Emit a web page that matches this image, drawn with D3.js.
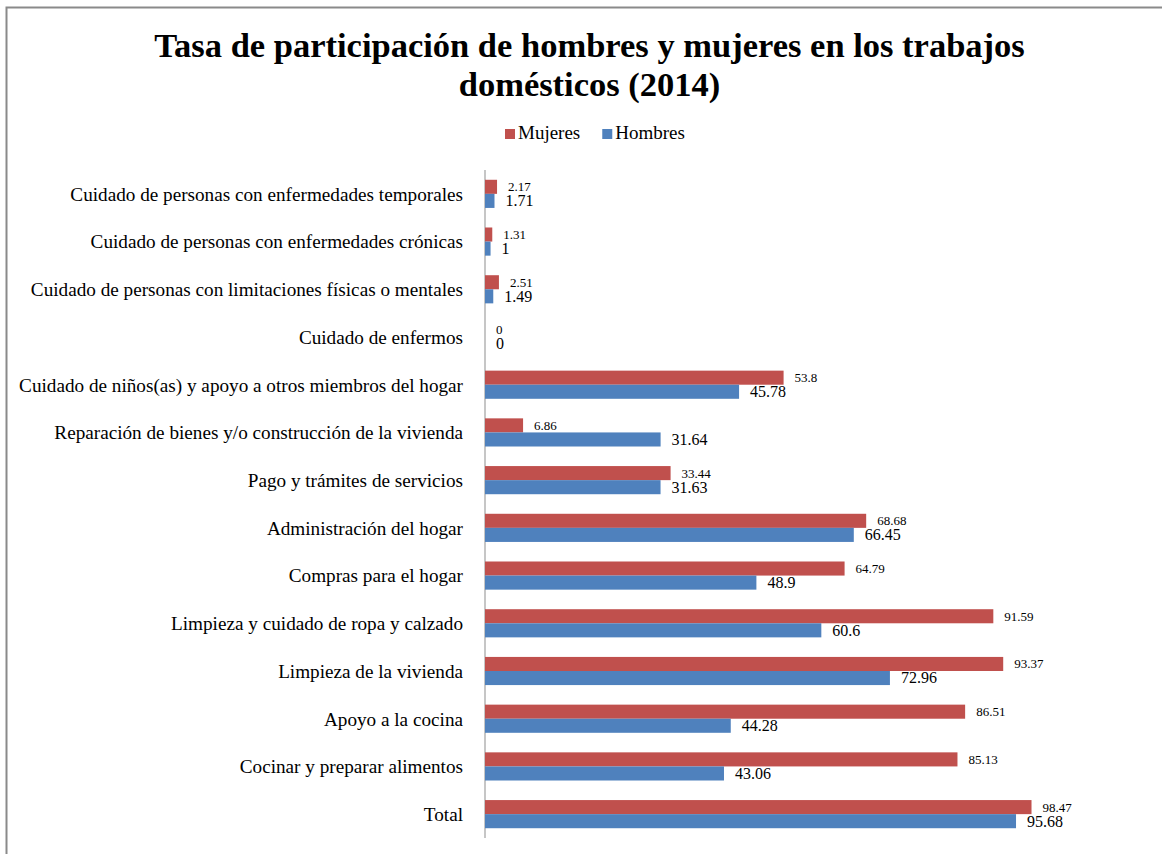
<!DOCTYPE html>
<html>
<head>
<meta charset="utf-8">
<script src="https://cdn.jsdelivr.net/npm/d3@7"></script>
<style>
  html, body { margin: 0; padding: 0; background: #fff; }
  svg { display: block; }
</style>
</head>
<body>
<svg id="chart" width="1162" height="854"></svg>
<script>
const titleLines = ["Tasa de participación de hombres y mujeres en los trabajos", "domésticos (2014)"];
const categories = [
  "Cuidado de personas con enfermedades temporales",
  "Cuidado de personas con enfermedades crónicas",
  "Cuidado de personas con limitaciones físicas o mentales",
  "Cuidado de enfermos",
  "Cuidado de niños(as) y apoyo a otros miembros del hogar",
  "Reparación de bienes y/o construcción de la vivienda",
  "Pago y trámites de servicios",
  "Administración del hogar",
  "Compras para el hogar",
  "Limpieza y cuidado de ropa y calzado",
  "Limpieza de la vivienda",
  "Apoyo a la cocina",
  "Cocinar y preparar alimentos",
  "Total"
];
const mujeres = [2.17, 1.31, 2.51, 0, 53.8, 6.86, 33.44, 68.68, 64.79, 91.59, 93.37, 86.51, 85.13, 98.47];
const hombres = [1.71, 1, 1.49, 0, 45.78, 31.64, 31.63, 66.45, 48.9, 60.6, 72.96, 44.28, 43.06, 95.68];
const seriesNames = ["Mujeres", "Hombres"];
const colors = ["#C0504D", "#4F81BD"];

const svg = d3.select("#chart");
const serif = "'Liberation Serif', 'Times New Roman', serif";

// outer frame
svg.append("rect").attr("x", 6.5).attr("y", 7.5).attr("width", 1200).attr("height", 900)
  .attr("fill", "none").attr("stroke", "#8a8a8a").attr("stroke-width", 2);

// title
svg.append("g").selectAll("text").data(titleLines).join("text")
  .attr("x", 589.5).attr("y", (d, i) => 57 + i * 39)
  .attr("text-anchor", "middle")
  .attr("font-family", serif).attr("font-weight", "bold").attr("font-size", 34.5)
  .attr("fill", "#000").text(d => d);

// legend
const lg = svg.append("g");
let lx = 505;
seriesNames.forEach((name, i) => {
  lg.append("rect").attr("x", lx).attr("y", 129).attr("width", 10).attr("height", 10).attr("fill", colors[i]);
  const t = lg.append("text").attr("x", lx + 13).attr("y", 139)
    .attr("font-family", serif).attr("font-size", 19).attr("fill", "#000").text(name);
  lx = lx + 13 + t.node().getComputedTextLength() + 22;
});

// scales
const x = d3.scaleLinear().domain([0, 100]).range([485, 1040]);
const y = d3.scaleBand().domain(categories).range([170, 838]).paddingInner(0.41).paddingOuter(0.205);
const sub = d3.scaleBand().domain(seriesNames).range([0, y.bandwidth()]);

// y axis
const yAxis = d3.axisLeft(y).tickSize(0).tickPadding(22);
const ag = svg.append("g").attr("transform", "translate(485,0)").call(yAxis);
ag.select(".domain").remove();
ag.selectAll("text").attr("font-family", serif).attr("font-size", 19.2).attr("fill", "#000").attr("dy", "0.36em");
svg.append("line").attr("x1", 485).attr("x2", 485).attr("y1", 170).attr("y2", 838)
  .attr("stroke", "#a0a0a0").attr("stroke-width", 1.2);

const data = categories.map((c, i) => ({ c, vals: [mujeres[i], hombres[i]] }));
const groups = svg.append("g").selectAll("g").data(data).join("g")
  .attr("transform", d => `translate(0,${y(d.c)})`);

const labelSizes = [13, 16];
groups.selectAll("rect").data(d => d.vals.map((v, j) => ({ v, j }))).join("rect")
  .attr("x", x(0)).attr("y", d => sub(seriesNames[d.j]))
  .attr("width", d => x(d.v) - x(0)).attr("height", sub.bandwidth())
  .attr("fill", d => colors[d.j]);

groups.selectAll("text").data(d => d.vals.map((v, j) => ({ v, j }))).join("text")
  .attr("x", d => x(d.v) + 11)
  .attr("y", d => sub(seriesNames[d.j]) + sub.bandwidth() / 2 + labelSizes[d.j] * 0.34)
  .attr("font-family", serif).attr("font-size", d => labelSizes[d.j]).attr("fill", "#000")
  .text(d => String(d.v));
</script>
</body>
</html>
